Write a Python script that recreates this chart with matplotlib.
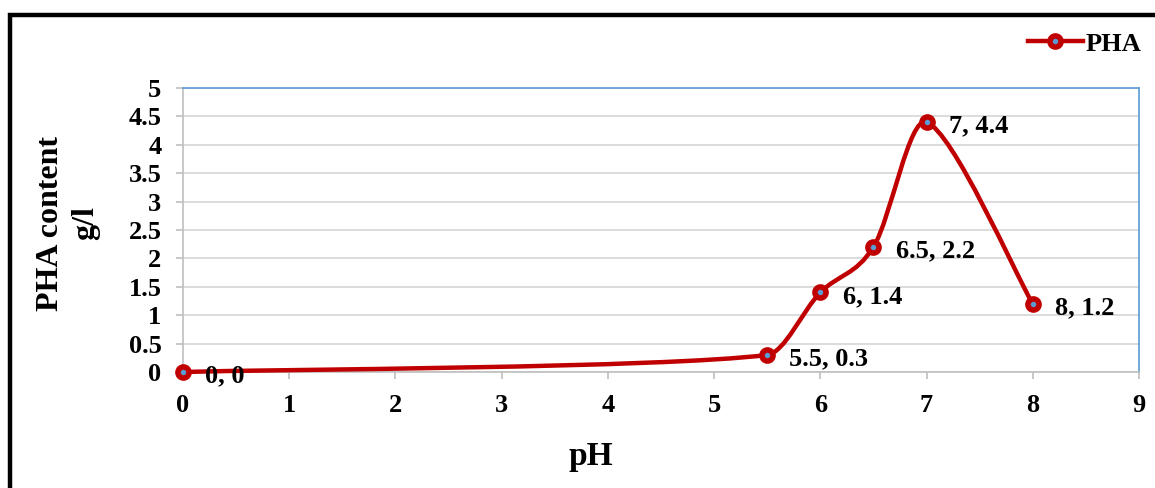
import numpy as np
import matplotlib.pyplot as plt
from matplotlib.path import Path
from matplotlib.patches import PathPatch, Rectangle
from matplotlib.lines import Line2D

ph = [0, 5.5, 6, 6.5, 7, 8]
pha = [0, 0.3, 1.4, 2.2, 4.4, 1.2]
x_ticks = list(range(0, 10))
y_ticks = [0, 0.5, 1, 1.5, 2, 2.5, 3, 3.5, 4, 4.5, 5]
y_ticklabels = ["0", "0.5", "1", "1.5", "2", "2.5", "3", "3.5", "4", "4.5", "5"]

RED = "#C00000"
BLUE = "#5B9BD5"
GRID = "#D9D9D9"

plt.rcParams["font.family"] = ["Liberation Serif", "DejaVu Serif"]
plt.rcParams["font.weight"] = "bold"


def smooth_path(xs, ys):
    # Catmull-Rom style tangents, shortened so a control point never
    # reaches past a third of its segment (keeps the curve from looping)
    pts = np.column_stack([xs, ys]).astype(float)
    n = len(pts)
    tang = []
    for i in range(n):
        a = pts[max(i - 1, 0)]
        b = pts[min(i + 1, n - 1)]
        tang.append((b - a) / 6.0)
    verts = [pts[0]]
    codes = [Path.MOVETO]
    for i in range(n - 1):
        lim = (pts[i + 1][0] - pts[i][0]) / 3.0
        t1 = tang[i] * min(1.0, lim / tang[i][0])
        t2 = tang[i + 1] * min(1.0, lim / tang[i + 1][0])
        verts += [pts[i] + t1, pts[i + 1] - t2, pts[i + 1]]
        codes += [Path.CURVE4] * 3
    return Path(verts, codes)


fig = plt.figure(figsize=(11.55, 4.88), dpi=100)
ax = fig.add_axes([0.1584, 0.2377, 0.8277, 0.582])

ax.add_patch(PathPatch(smooth_path(ph, pha), facecolor="none", edgecolor=RED,
                       lw=3.2, capstyle="round", joinstyle="round", zorder=3,
                       clip_on=False))
ax.plot(ph, pha, ls="none", marker="o", ms=8, mfc=BLUE, mec=RED, mew=4, zorder=4,
        clip_on=False)

for x, y in zip(ph, pha):
    ax.annotate(f"{x:g}, {y:g}", (x, y), xytext=(16, -3), textcoords="offset points",
                ha="left", va="center", fontsize=19, fontweight="bold")

ax.set_xlim(0, 9)
ax.set_ylim(0, 5)
ax.set_xticks(x_ticks)
ax.set_yticks(y_ticks)
ax.set_yticklabels(y_ticklabels)
ax.grid(axis="y", color=GRID, lw=1.3)
ax.set_axisbelow(True)
ax.tick_params(axis="both", labelsize=19, color="#BFBFBF", length=5, width=1.2)
ax.tick_params(axis="x", pad=11)
ax.tick_params(axis="y", pad=10.5)
for lab in ax.get_xticklabels() + ax.get_yticklabels():
    lab.set_fontweight("bold")

ax.spines["top"].set_color(BLUE)
ax.spines["right"].set_color(BLUE)
ax.spines["left"].set_color("#BFBFBF")
ax.spines["bottom"].set_color("#BFBFBF")
for s in ax.spines.values():
    s.set_linewidth(1.2)

ax.set_xlabel("pH", fontsize=24, fontweight="bold", va="center", ha="center")
ax.xaxis.set_label_coords(0.4268, -0.299)
ax.set_ylabel("PHA content\ng/l", fontsize=23, fontweight="bold", linespacing=1.25,
              va="center", ha="center")
ax.yaxis.set_label_coords(-0.1203, 0.5246)

handle = Line2D([], [], color=RED, lw=3.2, marker="o", ms=8, mfc=BLUE, mec=RED, mew=4)
fig.legend([handle], ["PHA"], loc="center right", bbox_to_anchor=(0.9975, 0.91),
           frameon=False, prop={"size": 19, "weight": "bold"}, handlelength=2.1,
           handletextpad=0.1, borderaxespad=0)

fig.add_artist(Rectangle((0.009, -0.05), 1.05, 1.019,
                         transform=fig.transFigure, fill=False, edgecolor="black",
                         lw=3.2, clip_on=False))

fig.savefig("out.png", dpi=100)
